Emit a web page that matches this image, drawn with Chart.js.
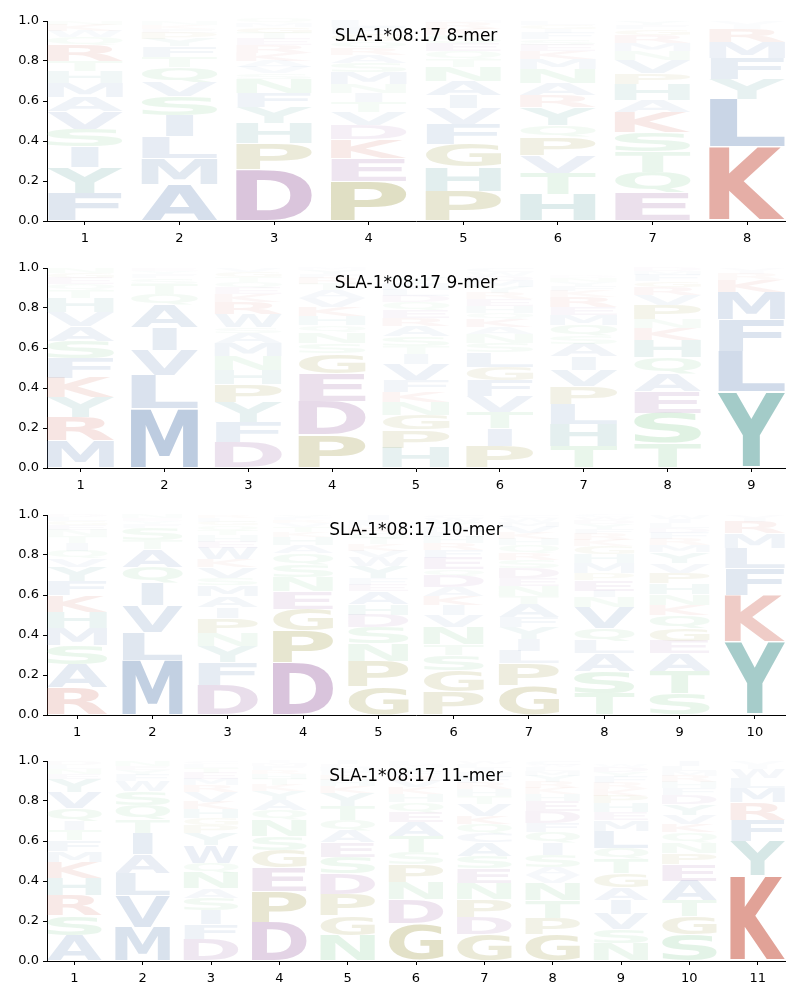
<!DOCTYPE html>
<html>
<head>
<meta charset="utf-8">
<script src="https://cdn.jsdelivr.net/npm/chart.js@4.4.1/dist/chart.umd.min.js"></script>
<style>
  body { margin: 0; background: #fff; }
  #wrap { position: relative; width: 800px; height: 1000px; }
  canvas { position: absolute; left: 0; }
</style>
</head>
<body>
<div id="wrap"></div>
<script>
// Allele and peptide lengths shown
const allele = 'SLA-1*08:17';
const lengths = [8, 9, 10, 11];
const yTickValues = [0, 0.2, 0.4, 0.6, 0.8, 1.0];

// Letters per position, stacked bottom -> top, with their heights (probabilities)
const letters8 = ['FYISVAMHTRQWKN', 'AMLISVQTFYPEKN', 'DPHYFNSVAKRETGMQ', 'PEKDVTINMSARQGFL',
  'PHGFVIANTQESKRM', 'HTVPQYRANMKESFIGL', 'EQTSKAHPVNMRGFY', 'KLYFMRIV'];
const heights8 = [
  [.14, .13, .10, .09, .09, .07, .07, .06, .05, .08, .04, .03, .03, .02],
  [.185, .13, .107, .105, .095, .072, .075, .05, .053, .04, .03, .02, .02, .018],
  [.26, .13, .10, .08, .07, .07, .03, .03, .03, .04, .04, .03, .03, .03, .02, .02],
  [.20, .115, .095, .07, .065, .05, .045, .045, .06, .045, .04, .035, .035, .035, .035, .03],
  [.15, .12, .115, .10, .08, .065, .07, .07, .04, .04, .04, .04, .03, .03, .01],
  [.135, .105, .09, .09, .06, .09, .06, .06, .07, .05, .04, .03, .03, .03, .02, .02, .02],
  [.14, .105, .10, .10, .10, .06, .08, .055, .065, .045, .04, .04, .03, .02, .02],
  [.37, .24, .10, .105, .08, .065, .02, .02]
];

const letters9 = ['MRYKFSAVHTQEGN', 'MLVIAQTSFYE', 'DFYPHNMASWRKEQTGV', 'PDEGSNQHKVATRFYM',
  'HPGNKFVITSAREQDLMY', 'PITVFGLSNAKQHERYMDWC', 'THLPVIASQMERKFYND', 'TSEAQHKNPVRGFMD', 'YLFMKRIV'];
const heights9 = [
  [.137, .117, .10, .097, .097, .087, .075, .07, .07, .04, .03, .03, .025, .025],
  [.297, .167, .125, .113, .113, .055, .05, .03, .02, .015, .015],
  [.13, .10, .10, .09, .07, .07, .065, .05, .03, .065, .06, .04, .03, .03, .025, .025, .02],
  [.167, .167, .14, .10, .05, .055, .035, .045, .045, .045, .04, .03, .03, .02, .02, .01],
  [.10, .09, .075, .065, .05, .06, .08, .05, .04, .05, .05, .04, .04, .04, .03, .03, .03, .03],
  [.108, .09, .083, .078, .078, .067, .075, .045, .045, .035, .04, .03, .035, .035, .03, .03, .03, .025, .02, .02],
  [.108, .112, .10, .087, .083, .067, .063, .04, .055, .05, .04, .05, .03, .025, .02, .02, .01],
  [.125, .15, .108, .087, .083, .088, .058, .045, .07, .05, .04, .03, .03, .02, .016],
  [.38, .205, .157, .138, .06, .03, .015, .015]
];

const letters10 = ['RASMHKFYVQITNEGLD', 'MLVIQATSFYEN', 'DFYNPIAMSVKWEHTQGLR', 'DPGENSQAHKTVRFY',
  'GPNSDHAEFYWVKTQRMLI', 'PGSTNVIKADQEFRHLMYWC', 'GPLIYFATNEDSRQHKVMWC', 'TSALQVNIEPMHGKRFYDWC',
  'STAEGQKNHPVYMRFDLIW', 'YKFLMRIV'];
const heights10 = [
  [.137, .117, .095, .087, .08, .083, .072, .07, .042, .038, .037, .035, .03, .025, .02, .02, .012],
  [.275, .14, .133, .112, .078, .09, .045, .06, .02, .015, .015, .017],
  [.15, .113, .08, .067, .075, .055, .053, .055, .037, .055, .037, .06, .03, .03, .025, .025, .02, .018, .015],
  [.263, .16, .108, .087, .072, .062, .057, .042, .038, .025, .025, .02, .015, .013, .013],
  [.142, .128, .087, .08, .063, .055, .062, .035, .03, .06, .045, .035, .03, .03, .03, .025, .02, .02, .023],
  [.117, .105, .078, .053, .088, .057, .05, .045, .045, .057, .033, .057, .04, .035, .03, .025, .025, .025, .02, .015],
  [.147, .11, .063, .06, .058, .05, .065, .042, .05, .04, .05, .04, .035, .04, .03, .03, .03, .025, .02, .015],
  [.108, .112, .087, .063, .063, .105, .05, .033, .055, .033, .05, .045, .04, .03, .03, .025, .025, .02, .015, .011],
  [.108, .112, .087, .063, .063, .067, .05, .053, .055, .053, .047, .055, .035, .03, .03, .025, .025, .022, .02],
  [.367, .233, .132, .103, .072, .058, .02, .015]
];

const letters11 = ['ASRHKMFTIQVYENLD', 'MVLAITQSWFYEN', 'DFISANQWYPGHKVRMETLC', 'DPEGSNQAYKTHRFMI',
  'NGPDSEAQTYKHRFMLI', 'GDNPSTAEQHKVRFYML', 'GDPNESACQKVTHRFMILW', 'GPTNVASIQFDEHKRYMLWC',
  'NSVIAGTQLMEHPKRFYDW', 'SGTAEPNQKVYDFHRMLI', 'KYFRMLWIV'];
const heights11 = [
  [.128, .10, .10, .087, .08, .055, .053, .05, .047, .063, .08, .067, .025, .025, .02, .02],
  [.17, .157, .112, .095, .105, .067, .072, .07, .05, .03, .025, .02, .027],
  [.108, .075, .07, .063, .047, .08, .047, .09, .058, .04, .035, .045, .037, .05, .035, .03, .03, .025, .02, .015],
  [.195, .155, .117, .088, .07, .08, .05, .05, .045, .03, .03, .025, .02, .02, .015, .01],
  [.128, .10, .108, .10, .083, .073, .058, .055, .07, .063, .035, .03, .025, .02, .02, .015, .017],
  [.187, .12, .088, .087, .06, .08, .07, .05, .05, .04, .035, .035, .025, .025, .02, .015, .013],
  [.132, .088, .087, .083, .073, .062, .067, .045, .047, .042, .06, .04, .035, .03, .03, .025, .02, .02, .014],
  [.132, .083, .087, .088, .04, .04, .06, .06, .055, .045, .06, .05, .035, .03, .03, .03, .025, .02, .01, .02],
  [.087, .07, .077, .072, .062, .07, .072, .053, .088, .053, .038, .045, .037, .035, .03, .03, .025, .025, .011],
  [.132, .092, .08, .097, .083, .053, .055, .05, .042, .045, .053, .047, .035, .03, .03, .025, .025, .026],
  [.428, .172, .105, .087, .072, .05, .047, .02, .019]
];

const panels = [
  { letters: letters8, heights: heights8 },
  { letters: letters9, heights: heights9 },
  { letters: letters10, heights: heights10 },
  { letters: letters11, heights: heights11 }
];

// amino acid colour groups
const groupColors = {
  red: [211, 119, 104], purple: [165, 115, 172], olive: [160, 155, 72],
  blue: [115, 147, 190], teal: [104, 169, 165], green: [125, 200, 140]
};
const aaGroup = {
  K: 'red', R: 'red', D: 'purple', E: 'purple', P: 'olive', G: 'olive',
  A: 'blue', L: 'blue', M: 'blue', I: 'blue', V: 'blue', F: 'blue', W: 'blue', C: 'blue',
  Y: 'teal', H: 'teal', S: 'green', T: 'green', N: 'green', Q: 'green'
};
const colorFor = (ch, p) => {
  const c = groupColors[aaGroup[ch]] || groupColors.blue;
  const a = Math.min(1, p * 1.6);
  return `rgba(${c[0]},${c[1]},${c[2]},${a.toFixed(3)})`;
};

const GLYPH_FONT = 'bold 200px "DejaVu Sans"';
const metricsCache = {};
const glyphMetrics = (ctx, ch) => {
  if (!metricsCache[ch]) {
    ctx.font = GLYPH_FONT;
    const m = ctx.measureText(ch);
    metricsCache[ch] = {
      left: m.actualBoundingBoxLeft, ascent: m.actualBoundingBoxAscent,
      w: m.actualBoundingBoxLeft + m.actualBoundingBoxRight,
      h: m.actualBoundingBoxAscent + m.actualBoundingBoxDescent
    };
  }
  return metricsCache[ch];
};

// draws each stacked bar as a stretched letter
const logoPlugin = {
  id: 'logo',
  afterDatasetsDraw(chart) {
    const ctx = chart.ctx;
    const iw = glyphMetrics(ctx, 'I').w;
    chart.data.datasets.forEach((ds, d) => {
      chart.getDatasetMeta(d).data.forEach((el, i) => {
        const ch = ds.letters[i];
        const p = ds.data[i].y;
        if (!ch || !p) return;
        const { x, y, base, width } = el.getProps(['x', 'y', 'base', 'width'], true);
        const top = Math.min(y, base);
        const h = Math.abs(base - y);
        const pad = h * 0.015;
        const g = glyphMetrics(ctx, ch);
        const sx = Math.min(width / g.w, 0.36 * width / iw);
        const sy = (h - 2 * pad) / g.h;
        ctx.save();
        ctx.translate(x - g.w * sx / 2, top + pad);
        ctx.scale(sx, sy);
        ctx.font = GLYPH_FONT;
        ctx.textAlign = 'left';
        ctx.textBaseline = 'alphabetic';
        ctx.fillStyle = colorFor(ch, p);
        ctx.fillText(ch, g.left, g.ascent);
        ctx.restore();
      });
    });
  },
  afterDraw(chart, args, opts) {
    const { ctx, chartArea } = chart;
    ctx.save();
    ctx.font = '17px "DejaVu Sans"';
    ctx.fillStyle = '#000';
    ctx.textAlign = 'center';
    ctx.textBaseline = 'middle';
    ctx.fillText(opts.text, (chartArea.left + chartArea.right) / 2, chartArea.top + 16);
    ctx.restore();
  }
};

const wrap = document.getElementById('wrap');
const canvasTops = [0, 247, 494, 740];

panels.forEach((panel, k) => {
  const n = lengths[k];
  const positions = panel.letters.map((_, i) => i + 1);
  const layers = Math.max(...panel.heights.map(h => h.length));

  const datasets = [];
  for (let L = 0; L < layers; L++) {
    datasets.push({
      data: positions.map((pos, i) => ({ x: pos, y: panel.heights[i][L] || 0 })),
      letters: positions.map((pos, i) => panel.letters[i][L]),
      backgroundColor: 'rgba(0,0,0,0)',
      borderWidth: 0,
      barPercentage: 0.8,
      categoryPercentage: 1.0
    });
  }

  const canvas = document.createElement('canvas');
  canvas.width = 800;
  canvas.height = 247;
  canvas.style.top = canvasTops[k] + 'px';
  wrap.appendChild(canvas);

  new Chart(canvas.getContext('2d'), {
    type: 'bar',
    data: { datasets },
    options: {
      responsive: false,
      animation: false,
      devicePixelRatio: 1,
      events: [],
      layout: { padding: { top: 21, right: 15, left: 0, bottom: 0 } },
      plugins: {
        legend: { display: false },
        tooltip: { enabled: false },
        logo: { text: `${allele} ${n}-mer` }
      },
      scales: {
        x: {
          type: 'linear',
          stacked: true,
          offset: false,
          min: 0.6,
          max: n + 0.4,
          afterBuildTicks: s => { s.ticks = positions.map(v => ({ value: v })); },
          afterFit: s => { s.height = 26; },
          ticks: { color: '#000', font: { family: 'DejaVu Sans', size: 13 }, padding: 6, callback: v => String(v) },
          grid: { display: true, drawOnChartArea: false, drawTicks: true, tickLength: 4, color: '#000', offset: false },
          border: { display: true, color: '#000', width: 1 }
        },
        y: {
          stacked: true,
          min: 0,
          max: 1,
          afterBuildTicks: s => { s.ticks = yTickValues.map(v => ({ value: v })); },
          afterFit: s => { s.width = 47; },
          ticks: { color: '#000', font: { family: 'DejaVu Sans', size: 13 }, padding: 4, callback: v => v.toFixed(1) },
          grid: { display: true, drawOnChartArea: false, drawTicks: true, tickLength: 4, color: '#000' },
          border: { display: true, color: '#000', width: 1 }
        }
      }
    },
    plugins: [logoPlugin]
  });
});
</script>
</body>
</html>
